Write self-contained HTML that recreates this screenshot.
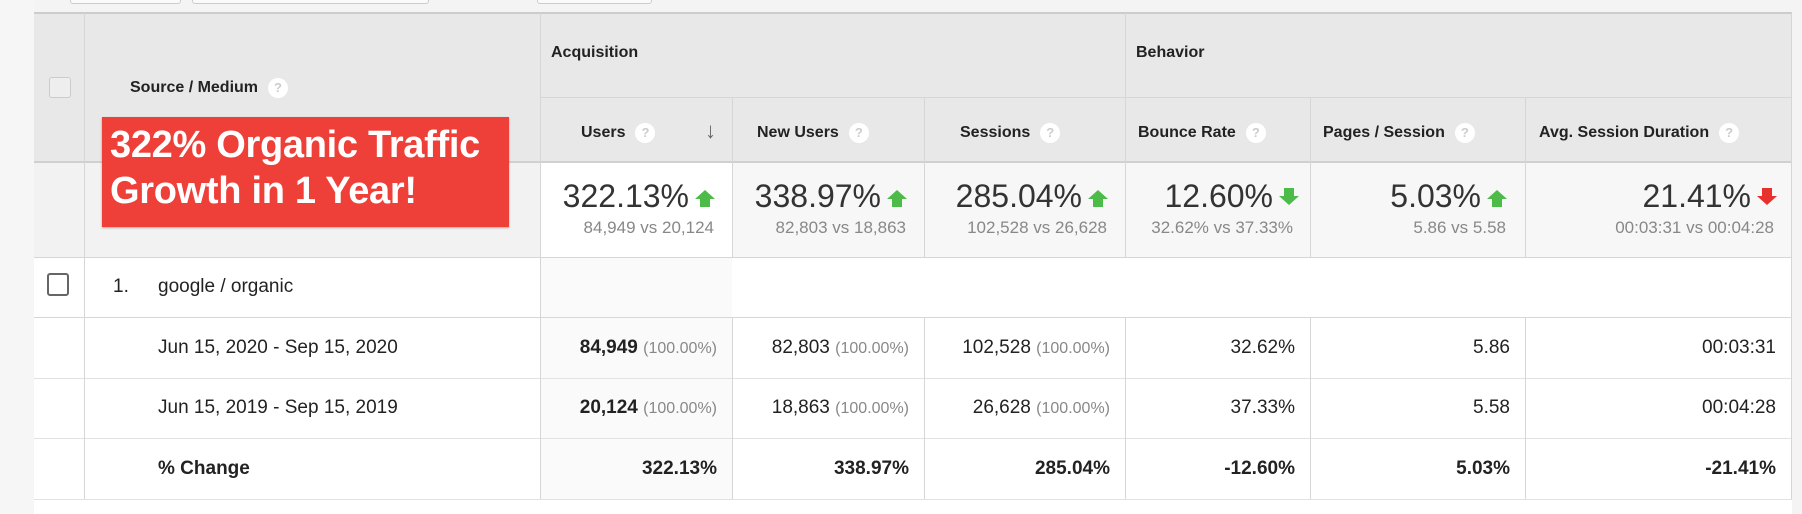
<!DOCTYPE html>
<html><head><meta charset="utf-8"><style>
*{margin:0;padding:0;box-sizing:border-box}
body{width:1802px;height:514px;background:#fff;font-family:"Liberation Sans",Arial,sans-serif;position:relative;overflow:hidden;color:#222}
.a{position:absolute}
.hl{position:absolute;background:#d6d6d6}
.t{position:absolute;white-space:nowrap}
.b{font-weight:bold;font-size:16px;color:#222}
.q{display:inline-block;width:20px;height:20px;border-radius:50%;background:#fff;color:#ccc;font-size:13px;text-align:center;line-height:20px;font-weight:bold;vertical-align:middle;margin-left:10px}
.big{font-size:32px;color:#333;text-align:right}
.sub{font-size:17px;color:#888;text-align:right}
.d{font-size:19px;color:#222;text-align:right}
.d span{color:#888;font-size:16px}
.up{display:inline-block;width:0;height:0;border-left:10px solid transparent;border-right:10px solid transparent;border-bottom:9px solid #4cbb47;position:relative;vertical-align:middle;margin-left:6px;top:-4px}
.up:after{content:"";position:absolute;left:-5px;top:9px;width:10px;height:8px;background:#4cbb47}
.dn{display:inline-block;width:10px;height:8px;position:relative;vertical-align:middle;margin-left:11px;top:-7px}
.dn:after{content:"";position:absolute;left:-5px;top:8px;border-left:10px solid transparent;border-right:10px solid transparent;border-top:9px solid #4cbb47}
.dn.r{background:#e8302c}.dn.r:after{border-top-color:#e8302c}
.dn.g{background:#4cbb47}
.cb{position:absolute;border:2px solid #666;border-radius:3px;background:#fff}
</style></head><body>
<div class="a" style="left:0;top:0;width:1802px;height:13px;background:#f4f4f4"></div>
<div class="a" style="left:70px;top:-4px;width:111px;height:8px;border:1px solid #ccc;border-radius:3px;background:#fafafa"></div>
<div class="a" style="left:192px;top:-4px;width:237px;height:8px;border:1px solid #ccc;border-radius:3px;background:#fafafa"></div>
<div class="a" style="left:537px;top:-4px;width:115px;height:8px;border:1px solid #ccc;border-radius:3px;background:#fafafa"></div>
<div class="a" style="left:0;top:0;width:34px;height:514px;background:#f6f6f6"></div>
<div class="a" style="left:34px;top:499px;width:1768px;height:15px;background:#fff"></div>
<div class="a" style="left:34px;top:13px;width:1758px;height:149px;background:#e8e8e8"></div>
<div class="a" style="left:34px;top:162px;width:506px;height:95px;background:#f2f2f2"></div>
<div class="a" style="left:540px;top:162px;width:192px;height:95px;background:#fff"></div>
<div class="a" style="left:732px;top:162px;width:1060px;height:95px;background:#f7f7f7"></div>
<div class="a" style="left:540px;top:257px;width:192px;height:242px;background:#fafafa"></div>
<div class="a" style="left:732px;top:257px;width:1060px;height:60px;background:#fff"></div>
<div class="a" style="left:1792px;top:13px;width:10px;height:501px;background:#f4f4f4"></div>
<div class="hl" style="left:34px;top:12px;width:1758px;height:2px;background:#ccc"></div>
<div class="hl" style="left:540px;top:97px;width:1252px;height:1px"></div>
<div class="hl" style="left:34px;top:161px;width:1758px;height:2px;background:#d0d0d0"></div>
<div class="hl" style="left:34px;top:257px;width:1758px;height:1px"></div>
<div class="hl" style="left:34px;top:317px;width:1758px;height:1px"></div>
<div class="hl" style="left:34px;top:378px;width:1758px;height:1px;background:#e2e2e2"></div>
<div class="hl" style="left:34px;top:438px;width:1758px;height:1px;background:#e2e2e2"></div>
<div class="hl" style="left:34px;top:499px;width:1758px;height:1px;background:#e2e2e2"></div>
<div class="hl" style="left:84px;top:13px;width:1px;height:486px"></div>
<div class="hl" style="left:540px;top:13px;width:1px;height:486px"></div>
<div class="hl" style="left:732px;top:97px;width:1px;height:160px"></div>
<div class="hl" style="left:732px;top:317px;width:1px;height:182px"></div>
<div class="hl" style="left:924px;top:97px;width:1px;height:160px"></div>
<div class="hl" style="left:924px;top:317px;width:1px;height:182px"></div>
<div class="hl" style="left:1125px;top:13px;width:1px;height:244px"></div>
<div class="hl" style="left:1125px;top:317px;width:1px;height:182px"></div>
<div class="hl" style="left:1310px;top:97px;width:1px;height:160px"></div>
<div class="hl" style="left:1310px;top:317px;width:1px;height:182px"></div>
<div class="hl" style="left:1525px;top:97px;width:1px;height:160px"></div>
<div class="hl" style="left:1525px;top:317px;width:1px;height:182px"></div>
<div class="hl" style="left:1791px;top:13px;width:1px;height:486px"></div>
<div class="cb" style="left:49px;top:77px;width:22px;height:21px;border:1px solid #ccc;background:#eee"></div>
<div class="cb" style="left:47px;top:273px;width:22px;height:23px"></div>
<div class="t b" style="left:130px;top:78px">Source / Medium<span class="q">?</span></div>
<div class="t b" style="left:551px;top:44px">Acquisition</div>
<div class="t b" style="left:1136px;top:44px">Behavior</div>
<div class="t b" style="left:581px;top:123px">Users<span class="q">?</span></div>
<div class="t" style="left:705px;top:118px;font-size:22px;color:#666;font-weight:bold">↓</div>
<div class="t b" style="left:757px;top:123px">New Users<span class="q">?</span></div>
<div class="t b" style="left:960px;top:123px">Sessions<span class="q">?</span></div>
<div class="t b" style="left:1138px;top:123px">Bounce Rate<span class="q">?</span></div>
<div class="t b" style="left:1323px;top:123px">Pages / Session<span class="q">?</span></div>
<div class="t b" style="left:1539px;top:123px">Avg. Session Duration<span class="q">?</span></div>
<div class="a" style="left:102px;top:117px;width:407px;height:110px;background:#ee3f38;box-shadow:0 1px 2px rgba(0,0,0,.3)"></div>
<div class="t" style="left:110px;top:122px;color:#fff;font-weight:bold;font-size:38px;line-height:46px;letter-spacing:-0.3px">322% Organic Traffic<br>Growth in 1 Year!</div>
<div class="t big" style="right:1087px;top:178px">322.13%<span class="up"></span></div>
<div class="t sub" style="right:1088px;top:218px">84,949 vs 20,124</div>
<div class="t big" style="right:895px;top:178px">338.97%<span class="up"></span></div>
<div class="t sub" style="right:896px;top:218px">82,803 vs 18,863</div>
<div class="t big" style="right:694px;top:178px">285.04%<span class="up"></span></div>
<div class="t sub" style="right:695px;top:218px">102,528 vs 26,628</div>
<div class="t big" style="right:508px;top:178px">12.60%<span class="dn g"></span></div>
<div class="t sub" style="right:509px;top:218px">32.62% vs 37.33%</div>
<div class="t big" style="right:295px;top:178px">5.03%<span class="up"></span></div>
<div class="t sub" style="right:296px;top:218px">5.86 vs 5.58</div>
<div class="t big" style="right:30px;top:178px">21.41%<span class="dn r"></span></div>
<div class="t sub" style="right:28px;top:218px">00:03:31 vs 00:04:28</div>
<div class="t d" style="left:113px;top:276px">1.</div>
<div class="t d" style="left:158px;top:276px">google / organic</div>
<div class="t d" style="left:158px;top:337px">Jun 15, 2020 - Sep 15, 2020</div>
<div class="t d" style="left:158px;top:397px">Jun 15, 2019 - Sep 15, 2019</div>
<div class="t d" style="left:158px;top:458px;font-weight:bold">% Change</div>
<div class="t d" style="right:1085px;top:337px"><b>84,949</b> <span>(100.00%)</span></div>
<div class="t d" style="right:1085px;top:397px"><b>20,124</b> <span>(100.00%)</span></div>
<div class="t d" style="right:1085px;top:458px;font-weight:bold">322.13%</div>
<div class="t d" style="right:893px;top:337px">82,803 <span>(100.00%)</span></div>
<div class="t d" style="right:893px;top:397px">18,863 <span>(100.00%)</span></div>
<div class="t d" style="right:893px;top:458px;font-weight:bold">338.97%</div>
<div class="t d" style="right:692px;top:337px">102,528 <span>(100.00%)</span></div>
<div class="t d" style="right:692px;top:397px">26,628 <span>(100.00%)</span></div>
<div class="t d" style="right:692px;top:458px;font-weight:bold">285.04%</div>
<div class="t d" style="right:507px;top:337px">32.62%</div>
<div class="t d" style="right:507px;top:397px">37.33%</div>
<div class="t d" style="right:507px;top:458px;font-weight:bold">-12.60%</div>
<div class="t d" style="right:292px;top:337px">5.86</div>
<div class="t d" style="right:292px;top:397px">5.58</div>
<div class="t d" style="right:292px;top:458px;font-weight:bold">5.03%</div>
<div class="t d" style="right:26px;top:337px">00:03:31</div>
<div class="t d" style="right:26px;top:397px">00:04:28</div>
<div class="t d" style="right:26px;top:458px;font-weight:bold">-21.41%</div>
</body></html>
